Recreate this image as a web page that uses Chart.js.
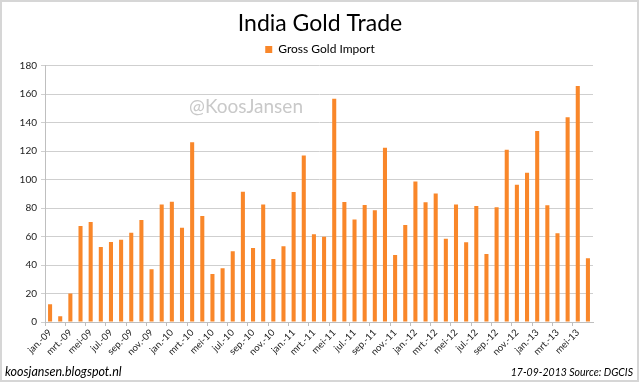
<!DOCTYPE html>
<html><head><meta charset="utf-8">
<script src="https://cdn.jsdelivr.net/npm/chart.js@4/dist/chart.umd.min.js"></script>
<style>html,body{margin:0;padding:0;background:#fff}canvas{display:block}</style>
</head><body>
<canvas id="c" width="640" height="383"></canvas>
<script>
const chartTitle = 'India Gold Trade';
const seriesName = 'Gross Gold Import';
const watermark = '@KoosJansen';
const footerLeft = 'koosjansen.blogspot.nl';
const footerRight = '17-09-2013 Source: DGCIS';

const categories = [
  'jan.-09','feb.-09','mrt.-09','apr.-09','mei-09','jun.-09','jul.-09','aug.-09','sep.-09','okt.-09','nov.-09','dec.-09',
  'jan.-10','feb.-10','mrt.-10','apr.-10','mei-10','jun.-10','jul.-10','aug.-10','sep.-10','okt.-10','nov.-10','dec.-10',
  'jan.-11','feb.-11','mrt.-11','apr.-11','mei-11','jun.-11','jul.-11','aug.-11','sep.-11','okt.-11','nov.-11','dec.-11',
  'jan.-12','feb.-12','mrt.-12','apr.-12','mei-12','jun.-12','jul.-12','aug.-12','sep.-12','okt.-12','nov.-12','dec.-12',
  'jan.-13','feb.-13','mrt.-13','apr.-13','mei-13','jun.-13'
];
const grossGoldImport = [
  12.5, 4, 20, 67.4, 70.2, 52.7, 56.2, 57.8, 62.7, 71.6, 37.1, 82.5,
  84.4, 66.2, 126.2, 74.4, 33.7, 37.8, 49.7, 91.4, 52, 82.5, 44.3, 53.2,
  91.2, 116.8, 61.6, 59.9, 156.7, 84.2, 72, 82.1, 78.4, 122.4, 47.1, 68.1,
  98.6, 84, 90.2, 58.5, 82.5, 56, 81.4, 47.8, 80.5, 121, 96.3, 104.7,
  134.1, 81.9, 62.3, 143.7, 165.6, 44.8
];
const yMin = 0, yMax = 180, yStep = 20;
const labelEvery = 2;

const FONT = 'Lato, "Open Sans", sans-serif';

const extras = {
  id: 'extras',
  beforeDatasetsDraw(chart) {
    const {ctx, chartArea} = chart;
    ctx.save();
    ctx.fillStyle = '#c9c9c9';
    ctx.font = '19px ' + FONT;
    ctx.textAlign = 'center';
    ctx.textBaseline = 'middle';
    ctx.fillText(watermark, chartArea.left + 201, chartArea.top + 41);
    ctx.restore();
  },
  afterDraw(chart) {
    const {ctx} = chart;
    ctx.save();
    ctx.fillStyle = '#000';
    ctx.textBaseline = 'alphabetic';
    ctx.font = 'italic 12.5px ' + FONT;
    ctx.textAlign = 'left';
    ctx.fillText(footerLeft, 5, 376);
    ctx.font = 'italic 10.5px ' + FONT;
    ctx.textAlign = 'right';
    ctx.fillText(footerRight, 633, 376);
    ctx.strokeStyle = '#d6d6d6';
    ctx.lineWidth = 2;
    ctx.strokeRect(1, 1, 637, 380);
    ctx.restore();
  }
};

new Chart(document.getElementById('c'), {
  type: 'bar',
  data: {
    labels: categories,
    datasets: [{
      label: seriesName,
      data: grossGoldImport,
      backgroundColor: '#F9872A',
      borderWidth: 0,
      barPercentage: 0.4,
      categoryPercentage: 1,
      yAxisID: 'y'
    }]
  },
  options: {
    responsive: false,
    animation: false,
    devicePixelRatio: 1,
    layout: {padding: {left: 0, right: 0, top: 0, bottom: 0}},
    plugins: {
      title: {
        display: true,
        text: chartTitle,
        color: '#000',
        font: {family: FONT, size: 23, weight: 'normal'},
        padding: {top: 10, bottom: 0}
      },
      legend: {
        display: true,
        position: 'top',
        labels: {
          color: '#000',
          font: {family: FONT, size: 12},
          boxWidth: 7,
          boxHeight: 7,
          padding: 6
        }
      },
      tooltip: {enabled: false}
    },
    scales: {
      x: {
        offset: true,
        afterFit(scale) { scale.height = 61; },
        grid: {
          offset: true,
          drawOnChartArea: false,
          drawTicks: true,
          tickLength: 4,
          color: (c) => (c.index % labelEvery === 0 ? '#bfbfbf' : 'rgba(0,0,0,0)')
        },
        border: {color: '#bfbfbf'},
        ticks: {
          autoSkip: false,
          minRotation: 45,
          maxRotation: 45,
          padding: 1,
          color: '#222',
          font: {family: FONT, size: 9.5},
          callback(v, i) { return i % labelEvery === 0 ? categories[i] : ''; }
        }
      },
      y: {
        min: yMin,
        max: yMax,
        afterFit(scale) { scale.width = 45; },
        grid: {color: '#cfcfcf', tickLength: 4, drawTicks: true},
        border: {color: '#bfbfbf'},
        ticks: {
          stepSize: yStep,
          padding: 4,
          color: '#222',
          font: {family: FONT, size: 10}
        }
      },
      spacer: {
        type: 'linear',
        position: 'right',
        display: true,
        afterFit(scale) { scale.width = 47; },
        grid: {display: false, drawTicks: false},
        border: {display: false},
        ticks: {display: false}
      }
    }
  },
  plugins: [extras]
});
</script>
</body></html>
